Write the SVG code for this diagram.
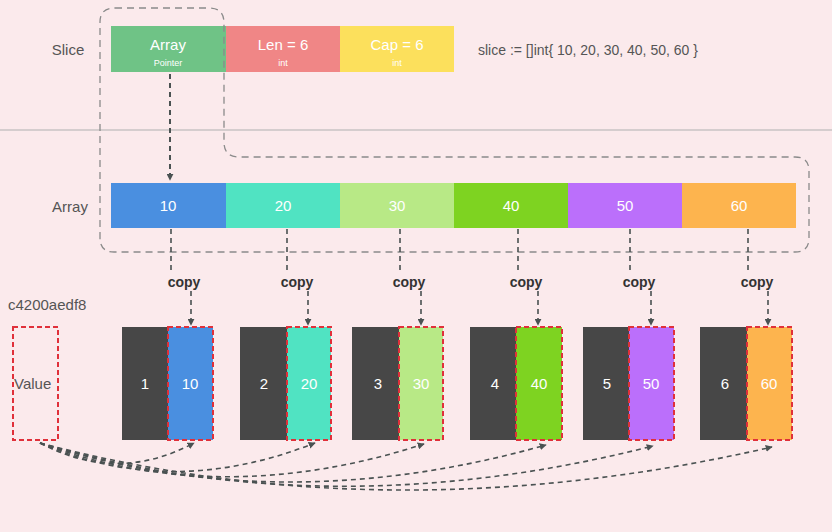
<svg xmlns="http://www.w3.org/2000/svg" width="832" height="532" viewBox="0 0 832 532">
<defs>
<style>
text{font-family:"Liberation Sans",Arial,sans-serif}
.lbl{fill:#555;font-size:15px;text-anchor:middle}
.w{fill:#fff;font-size:15px;text-anchor:middle}
.ws{fill:#fff;font-size:9px;text-anchor:middle}
.copy{fill:#333;font-size:14px;font-weight:bold;text-anchor:middle}
.dk{fill:#474747}
.rd{stroke:#e0303a;stroke-width:2;stroke-dasharray:5 3;fill:none}
.conn{stroke:#4a5252;stroke-width:1.6;stroke-dasharray:5 4;fill:none}
.outline{stroke:#8a8a8a;stroke-width:1.3;stroke-dasharray:7 5;fill:none}
</style>
<marker id="ah" viewBox="0 0 10 10" refX="9" refY="5" markerWidth="7" markerHeight="7" markerUnits="userSpaceOnUse" orient="auto">
<path d="M0,0 L10,5 L0,10 z" fill="#4a5252"/>
</marker>
</defs>
<rect width="832" height="532" fill="#fbeaec"/>
<line x1="0" y1="130" x2="832" y2="130" stroke="#c9c3c4" stroke-width="1.5"/>

<g id="slice">
<text class="lbl" x="68" y="55">Slice</text>
<rect x="111" y="26" width="115" height="46" fill="#6fc386"/>
<text class="w" x="168" y="50">Array</text>
<text class="ws" x="168" y="66">Pointer</text>
<rect x="226" y="26" width="114" height="46" fill="#f08686"/>
<text class="w" x="283" y="50">Len = 6</text>
<text class="ws" x="283" y="66">int</text>
<rect x="340" y="26" width="114" height="46" fill="#fce05c"/>
<text class="w" x="397" y="50">Cap = 6</text>
<text class="ws" x="397" y="66">int</text>
<text x="478" y="55" style="fill:#555;font-size:14px">slice := []int{ 10, 20, 30, 40, 50, 60 }</text>
</g>

<g id="outline">
<path class="outline" d="M115,8 H209 Q224,8 224,23 V142 Q224,157 239,157 H795 Q809,157 809,171 V238 Q809,252 795,252 H114 Q100,252 100,238 V22 Q100,8 115,8 Z"/>
</g>

<g id="array">
<text class="lbl" x="70" y="212">Array</text>
<rect x="111" y="183" width="115" height="45" fill="#4a8fe0"/>
<text class="w" x="168" y="211">10</text>
<rect x="226" y="183" width="114" height="45" fill="#50e3c2"/>
<text class="w" x="283" y="211">20</text>
<rect x="340" y="183" width="114" height="45" fill="#b8e986"/>
<text class="w" x="397" y="211">30</text>
<rect x="454" y="183" width="114" height="45" fill="#7ed321"/>
<text class="w" x="511" y="211">40</text>
<rect x="568" y="183" width="114" height="45" fill="#bb6ffb"/>
<text class="w" x="625" y="211">50</text>
<rect x="682" y="183" width="114" height="45" fill="#fdb44e"/>
<text class="w" x="739" y="211">60</text>
</g>

<g id="value">
<text x="8" y="310" style="fill:#555;font-size:15px">c4200aedf8</text>
<rect class="rd" x="13" y="327" width="45" height="113"/>
<text x="14" y="389" style="fill:#555;font-size:15px">Value</text>
</g>

<g id="pair1">
<rect class="dk" x="122" y="327" width="46" height="113"/>
<text class="w" x="145" y="389">1</text>
<rect x="168" y="327" width="45" height="113" fill="#4a8fe0"/>
<rect class="rd" x="168" y="327" width="45" height="113"/>
<text class="w" x="190" y="389">10</text>
</g>
<g id="pair2">
<rect class="dk" x="240" y="327" width="47" height="113"/>
<text class="w" x="264" y="389">2</text>
<rect x="287" y="327" width="44" height="113" fill="#50e3c2"/>
<rect class="rd" x="287" y="327" width="44" height="113"/>
<text class="w" x="309" y="389">20</text>
</g>
<g id="pair3">
<rect class="dk" x="352" y="327" width="47" height="113"/>
<text class="w" x="378" y="389">3</text>
<rect x="399" y="327" width="44" height="113" fill="#b8e986"/>
<rect class="rd" x="399" y="327" width="44" height="113"/>
<text class="w" x="421" y="389">30</text>
</g>
<g id="pair4">
<rect class="dk" x="470" y="327" width="46" height="113"/>
<text class="w" x="495" y="389">4</text>
<rect x="516" y="327" width="46" height="113" fill="#7ed321"/>
<rect class="rd" x="516" y="327" width="46" height="113"/>
<text class="w" x="539" y="389">40</text>
</g>
<g id="pair5">
<rect class="dk" x="583" y="327" width="46" height="113"/>
<text class="w" x="607" y="389">5</text>
<rect x="629" y="327" width="45" height="113" fill="#bb6ffb"/>
<rect class="rd" x="629" y="327" width="45" height="113"/>
<text class="w" x="651" y="389">50</text>
</g>
<g id="pair6">
<rect class="dk" x="700" y="327" width="47" height="113"/>
<text class="w" x="725" y="389">6</text>
<rect x="747" y="327" width="45" height="113" fill="#fdb44e"/>
<rect class="rd" x="747" y="327" width="45" height="113"/>
<text class="w" x="769" y="389">60</text>
</g>

<g id="connectors">
<path d="M170,74 V180" stroke="#4a5252" stroke-width="2" stroke-dasharray="5 4" fill="none" marker-end="url(#ah)"/>
<path class="conn" d="M171,229 V274"/>
<path class="conn" d="M191,291 V325" marker-end="url(#ah)"/>
<path class="conn" d="M287,229 V274"/>
<path class="conn" d="M308,291 V325" marker-end="url(#ah)"/>
<path class="conn" d="M400,229 V274"/>
<path class="conn" d="M421,291 V325" marker-end="url(#ah)"/>
<path class="conn" d="M518,229 V274"/>
<path class="conn" d="M538,291 V325" marker-end="url(#ah)"/>
<path class="conn" d="M630,229 V274"/>
<path class="conn" d="M651,291 V325" marker-end="url(#ah)"/>
<path class="conn" d="M748,229 V274"/>
<path class="conn" d="M768,291 V325" marker-end="url(#ah)"/>
<text class="copy" x="184" y="287">copy</text>
<text class="copy" x="297" y="287">copy</text>
<text class="copy" x="409" y="287">copy</text>
<text class="copy" x="526" y="287">copy</text>
<text class="copy" x="639" y="287">copy</text>
<text class="copy" x="757" y="287">copy</text>
<path class="conn" d="M40,443 Q117,484 194,443" marker-end="url(#ah)"/>
<path class="conn" d="M40,443 Q170,500 315,443" marker-end="url(#ah)"/>
<path class="conn" d="M40,443 Q220,510 424,444" marker-end="url(#ah)"/>
<path class="conn" d="M40,443 Q280,520 546,445" marker-end="url(#ah)"/>
<path class="conn" d="M40,443 Q330,528 653,446" marker-end="url(#ah)"/>
<path class="conn" d="M40,443 Q390,535 772,447" marker-end="url(#ah)"/>
</g>
</svg>
